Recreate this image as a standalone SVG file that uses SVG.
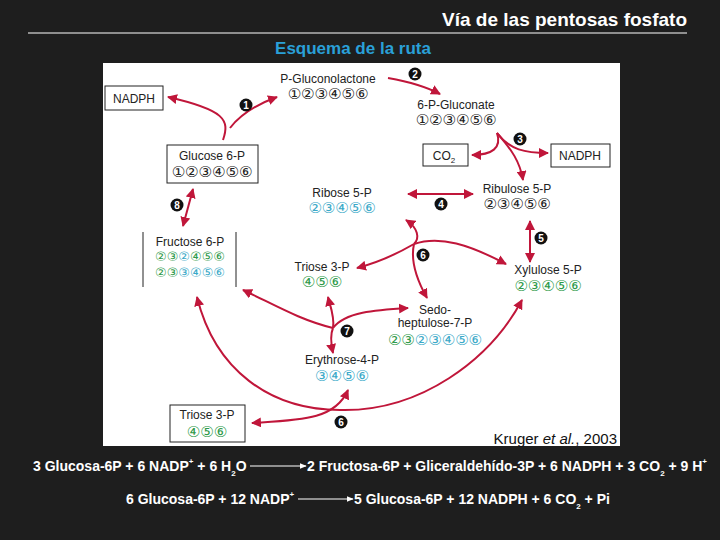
<svg xmlns="http://www.w3.org/2000/svg" width="720" height="540" viewBox="0 0 720 540">
<defs>
<marker id="ah" viewBox="0 0 10 10" refX="9" refY="5" markerWidth="5" markerHeight="5" orient="auto-start-reverse"><path d="M0,0 L10,5 L0,10 z" fill="#c0163a"/></marker>
<marker id="aw" viewBox="0 0 10 10" refX="9" refY="5" markerWidth="6" markerHeight="6" orient="auto"><path d="M0,1 L10,5 L0,9 z" fill="#fff"/></marker>
<style>
.t{font-family:"Liberation Sans",Arial,sans-serif;font-size:12px;fill:#222;text-anchor:middle}
.d{font-family:"DejaVu Sans",sans-serif;font-size:15px;text-anchor:middle}
.s{font-size:13px}
.k{fill:#222}.b{fill:#3aa9c8}.g{fill:#2e9a4a}
.box{fill:#fff;stroke:#222;stroke-width:1}
.a{fill:none;stroke:#c0163a;stroke-width:2}
.badge circle{fill:#111}
.badge text{font-family:"Liberation Sans",Arial,sans-serif;font-size:10px;font-weight:bold;fill:#fff;text-anchor:middle}
.eq{font-family:"Liberation Sans",Arial,sans-serif;font-size:14px;font-weight:bold;fill:#fff}
</style>
</defs>
<rect width="720" height="540" fill="#1e1e1e"/>
<text x="687" y="26" font-family="Liberation Sans,Arial,sans-serif" font-size="19" font-weight="bold" fill="#fff" text-anchor="end">Vía de las pentosas fosfato</text>
<line x1="28" y1="33" x2="687" y2="33" stroke="#fff" stroke-width="1"/>
<text x="353" y="54" font-family="Liberation Sans,Arial,sans-serif" font-size="17" font-weight="bold" fill="#2aa0d8" text-anchor="middle">Esquema de la ruta</text>
<rect x="103" y="63" width="517" height="383" fill="#fff"/>

<g id="connectors">
<path class="a" marker-end="url(#ah)" d="M223,140 C230,120 225,110 168,97"/>
<path class="a" marker-end="url(#ah)" d="M230,128 C240,115 255,105 277,97"/>
<path class="a" marker-start="url(#ah)" marker-end="url(#ah)" d="M193,189 L183,226"/>
<path class="a" marker-end="url(#ah)" d="M388,78 C410,82 425,86 440,94"/>
<path class="a" marker-end="url(#ah)" d="M497,133 C502,148 492,155 472,155"/>
<path class="a" marker-end="url(#ah)" d="M497,133 C510,150 525,153 548,153"/>
<path class="a" marker-end="url(#ah)" d="M497,133 C512,150 520,162 523,180"/>
<path class="a" marker-start="url(#ah)" marker-end="url(#ah)" d="M408,194 L473,194"/>
<path class="a" marker-start="url(#ah)" marker-end="url(#ah)" d="M530,221 L530,262"/>
<path class="a" marker-start="url(#ah)" d="M406,220 C418,228 420,238 414,244"/>
<path class="a" marker-end="url(#ah)" d="M414,244 C440,235 470,245 506,264"/>
<path class="a" marker-end="url(#ah)" d="M414,244 C395,255 380,262 357,268"/>
<path class="a" marker-end="url(#ah)" d="M414,244 C410,262 418,282 427,298"/>
<path class="a" marker-end="url(#ah)" d="M333,328 C300,320 275,305 243,290"/>
<path class="a" marker-end="url(#ah)" d="M333,328 C335,318 330,305 328,297"/>
<path class="a" marker-end="url(#ah)" d="M333,328 C330,335 331,344 333,353"/>
<path class="a" marker-end="url(#ah)" d="M333,328 C345,312 375,310 408,308"/>
<path class="a" marker-start="url(#ah)" marker-end="url(#ah)" d="M197,297 C215,370 270,410 340,410 C420,412 490,360 522,300"/>
<path class="a" marker-start="url(#ah)" marker-end="url(#ah)" d="M252,423 C300,420 335,420 348,390"/>
</g>

<g id="badges" class="badge">
<g><circle cx="246" cy="105" r="6.5"/><text x="246" y="109">1</text></g>
<g><circle cx="415" cy="74" r="6.5"/><text x="415" y="78">2</text></g>
<g><circle cx="520" cy="139" r="6.5"/><text x="520" y="143">3</text></g>
<g><circle cx="441" cy="204" r="6.5"/><text x="441" y="208">4</text></g>
<g><circle cx="541" cy="238" r="6.5"/><text x="541" y="242">5</text></g>
<g><circle cx="423" cy="255" r="6.5"/><text x="423" y="259">6</text></g>
<g><circle cx="347" cy="331" r="6.5"/><text x="347" y="335">7</text></g>
<g><circle cx="177" cy="205" r="6.5"/><text x="177" y="209">8</text></g>
<g><circle cx="341" cy="422" r="6.5"/><text x="341" y="426">6</text></g>
</g>

<g id="nadph1"><rect class="box" x="105" y="86" width="58" height="24"/><text class="t" x="134" y="103">NADPH</text></g>
<g id="pgl"><text class="t" x="328" y="83">P-Gluconolactone</text><text class="d k" x="328" y="99">①②③④⑤⑥</text></g>
<g id="g6p"><rect class="box" x="167" y="145" width="91" height="38"/><text class="t" x="212" y="160">Glucose 6-P</text><text class="d k" x="212" y="177">①②③④⑤⑥</text></g>
<g id="pgluconate"><text class="t" x="456" y="109">6-P-Gluconate</text><text class="d k" x="456" y="125">①②③④⑤⑥</text></g>
<g id="co2"><rect class="box" x="423" y="144" width="45" height="22"/><text class="t" x="444" y="160">CO<tspan font-size="8" dy="3">2</tspan></text></g>
<g id="nadph2"><rect class="box" x="551" y="144" width="59" height="23"/><text class="t" x="580" y="160">NADPH</text></g>
<g id="ribulose"><text class="t" x="517" y="193">Ribulose 5-P</text><text class="d k" x="517" y="209">②③④⑤⑥</text></g>
<g id="ribose"><text class="t" x="342" y="197">Ribose 5-P</text><text class="d b" x="342" y="213">②③④⑤⑥</text></g>
<g id="f6p"><rect x="143" y="232" width="93" height="55" fill="#fff"/><line x1="143" y1="232" x2="143" y2="287" stroke="#222"/><line x1="236" y1="232" x2="236" y2="287" stroke="#222"/>
<text class="t" x="190" y="246">Fructose 6-P</text>
<text class="d s" x="190" y="261"><tspan class="g">②③</tspan><tspan class="b">②</tspan><tspan class="g">④⑤⑥</tspan></text>
<text class="d s" x="190" y="277"><tspan class="g">②③</tspan><tspan class="b">③④⑤⑥</tspan></text></g>
<g id="triose1"><text class="t" x="322" y="271">Triose 3-P</text><text class="d g" x="322" y="287">④⑤⑥</text></g>
<g id="xylulose"><text class="t" x="548" y="274">Xylulose 5-P</text><text class="d g" x="548" y="291">②③④⑤⑥</text></g>
<g id="sedo"><text class="t" x="435" y="314">Sedo-</text><text class="t" x="435" y="327">heptulose-7-P</text><text class="d" x="435" y="345"><tspan class="g">②③</tspan><tspan class="b">②③④⑤⑥</tspan></text></g>
<g id="erythrose"><text class="t" x="342" y="364">Erythrose-4-P</text><text class="d b" x="342" y="381">③④⑤⑥</text></g>
<g id="triose2"><rect class="box" x="170" y="405" width="75" height="37"/><text class="t" x="207" y="419">Triose 3-P</text><text class="d g" x="207" y="437">④⑤⑥</text></g>
<text x="617" y="444" font-family="Liberation Sans,Arial,sans-serif" font-size="15" fill="#111" text-anchor="end">Kruger <tspan font-style="italic">et al.</tspan>, 2003</text>

<g id="equations">
<text class="eq" x="33" y="471">3 Glucosa-6P + 6 NADP<tspan font-size="8" dy="-7">+</tspan><tspan dy="7"> + 6 H</tspan><tspan font-size="8" dy="5">2</tspan><tspan dy="-5">O</tspan></text>
<line x1="250" y1="466" x2="306" y2="466" stroke="#fff" stroke-width="1.2" marker-end="url(#aw)"/>
<text class="eq" x="307" y="471">2 Fructosa-6P + Gliceraldehído-3P + 6 NADPH + 3 CO<tspan font-size="8" dy="5">2</tspan><tspan dy="-5"> + 9 H</tspan><tspan font-size="8" dy="-7">+</tspan></text>
<text class="eq" x="126" y="504">6 Glucosa-6P + 12 NADP<tspan font-size="8" dy="-7">+</tspan></text>
<line x1="298" y1="499" x2="353" y2="499" stroke="#fff" stroke-width="1.2" marker-end="url(#aw)"/>
<text class="eq" x="354" y="504">5 Glucosa-6P  + 12 NADPH + 6 CO<tspan font-size="8" dy="5">2</tspan><tspan dy="-5"> + Pi</tspan></text>
</g>
</svg>
